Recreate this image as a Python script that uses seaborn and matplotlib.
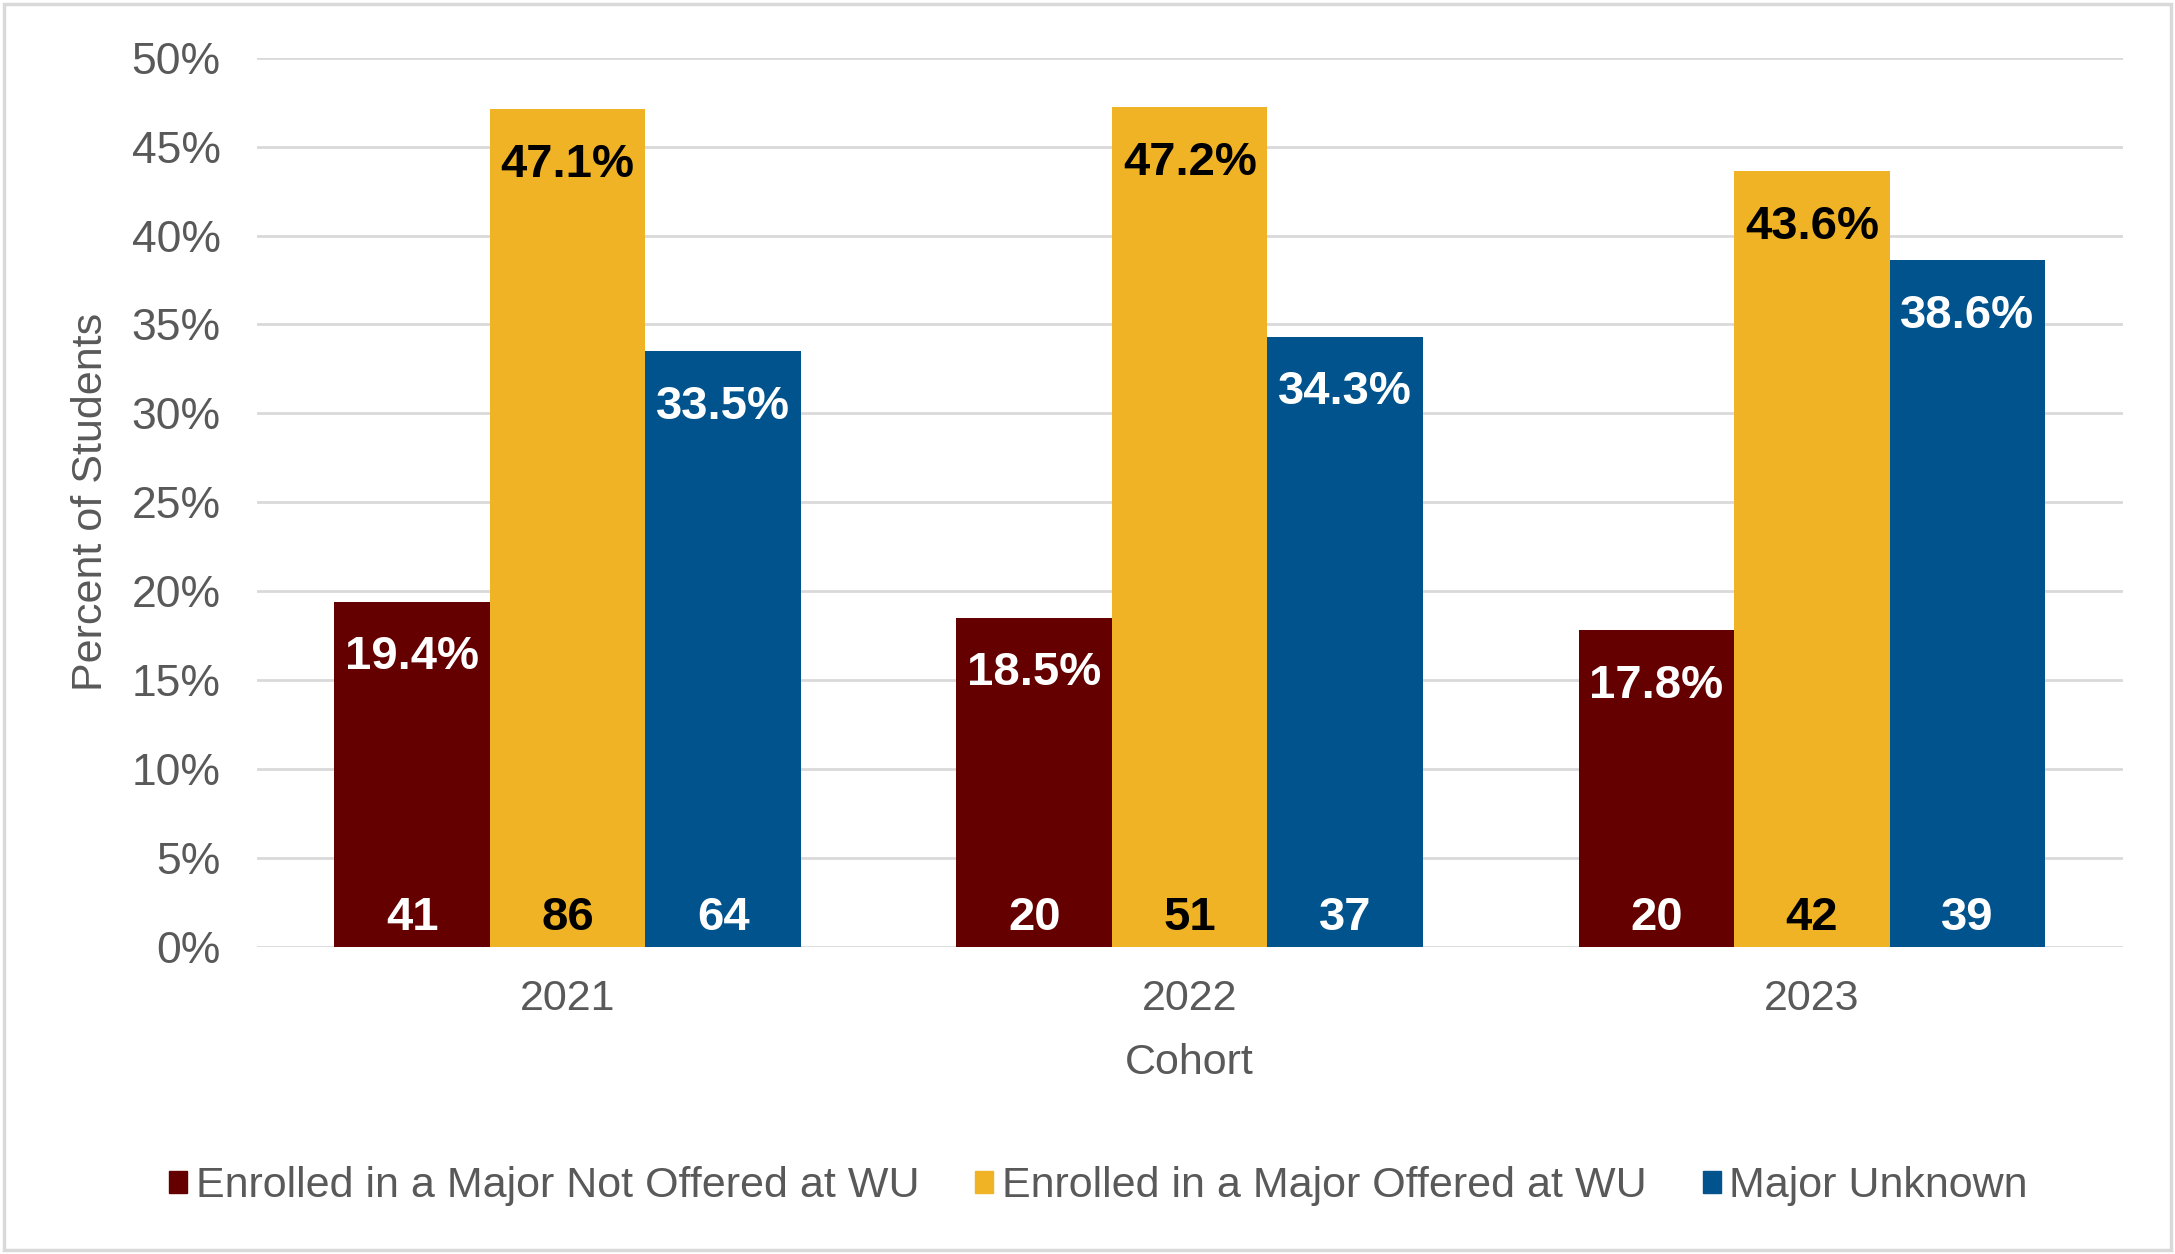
import matplotlib
matplotlib.use("Agg")
import matplotlib.pyplot as plt
import pandas as pd
import seaborn as sns
from matplotlib.patches import Rectangle
from matplotlib.ticker import FuncFormatter

# data
cohorts = ["2021", "2022", "2023"]
groups = [
    "Enrolled in a Major Not Offered at WU",
    "Enrolled in a Major Offered at WU",
    "Major Unknown",
]
pct_not_offered = [19.4, 18.5, 17.8]
pct_offered = [47.1, 47.2, 43.6]
pct_unknown = [33.5, 34.3, 38.6]
n_not_offered = [41, 20, 20]
n_offered = [86, 51, 42]
n_unknown = [64, 37, 39]

colors = ["#650000", "#EFB325", "#00538C"]
label_colors = ["white", "black", "white"]
grey = "#595959"

rows = []
for g, pcts, ns in zip(groups,
                       [pct_not_offered, pct_offered, pct_unknown],
                       [n_not_offered, n_offered, n_unknown]):
    for c, p, n in zip(cohorts, pcts, ns):
        rows.append({"cohort": c, "group": g, "pct": p, "n": n})
df = pd.DataFrame(rows)

sns.set_theme(style="white")
plt.rcParams["font.family"] = ["Liberation Sans", "DejaVu Sans"]

fig = plt.figure(figsize=(21.75, 12.54), dpi=100)
ax = fig.add_axes([0.118, 0.245, 0.858, 0.709])

sns.barplot(
    data=df, x="cohort", y="pct", hue="group",
    order=cohorts, hue_order=groups,
    palette=dict(zip(groups, colors)),
    width=0.75, saturation=1, linewidth=0, ax=ax,
)

ax.set_ylim(0, 50)
ax.set_xlim(-0.5, 2.5)
ax.set_yticks(range(0, 51, 5))
ax.yaxis.set_major_formatter(FuncFormatter(lambda v, _: f"{v:.0f}%"))
ax.grid(axis="y", color="#D9D9D9", linewidth=2)
ax.set_axisbelow(True)
for s in ax.spines.values():
    s.set_visible(False)
ax.tick_params(axis="y", length=0, pad=26, labelsize=32, labelcolor=grey)
ax.tick_params(axis="x", length=0, pad=23, labelsize=31, labelcolor=grey)

ax.set_ylabel("Percent of Students", fontsize=31, color=grey)
ax.yaxis.set_label_coords(-0.078, 0.5)
ax.set_xlabel("Cohort", fontsize=31, color=grey, va="top")
ax.xaxis.set_label_coords(0.5, -0.108)

# value labels: percent just inside the top, count just above the base
for cont, pcts, ns, tc in zip(ax.containers,
                              [pct_not_offered, pct_offered, pct_unknown],
                              [n_not_offered, n_offered, n_unknown],
                              label_colors):
    for bar, p, n in zip(cont, pcts, ns):
        xc = bar.get_x() + bar.get_width() / 2
        ax.annotate(f"{p:.1f}%", (xc, bar.get_height()), xytext=(0, -40),
                    textcoords="offset points", ha="center", va="center",
                    fontsize=34, fontweight="bold", color=tc)
        ax.annotate(f"{n}", (xc, 0), xytext=(0, 21),
                    textcoords="offset points", ha="center", va="center",
                    fontsize=34, fontweight="bold", color=tc)

ax.legend_.remove()
handles = [Rectangle((0, 0), 1, 1, color=c) for c in colors]
fig.legend(handles, groups, loc="center", bbox_to_anchor=(0.505, 0.054),
           ncol=3, frameon=False, fontsize=31, labelcolor=grey,
           handlelength=0.42, handleheight=0.42, handletextpad=0.2,
           columnspacing=1.3)

# light frame around the whole chart
fig.patches.append(Rectangle((0.002, 0.003), 0.996, 0.994,
                             transform=fig.transFigure, fill=False,
                             edgecolor="#D9D9D9", linewidth=2.5))

fig.savefig("out.png", dpi=100)
